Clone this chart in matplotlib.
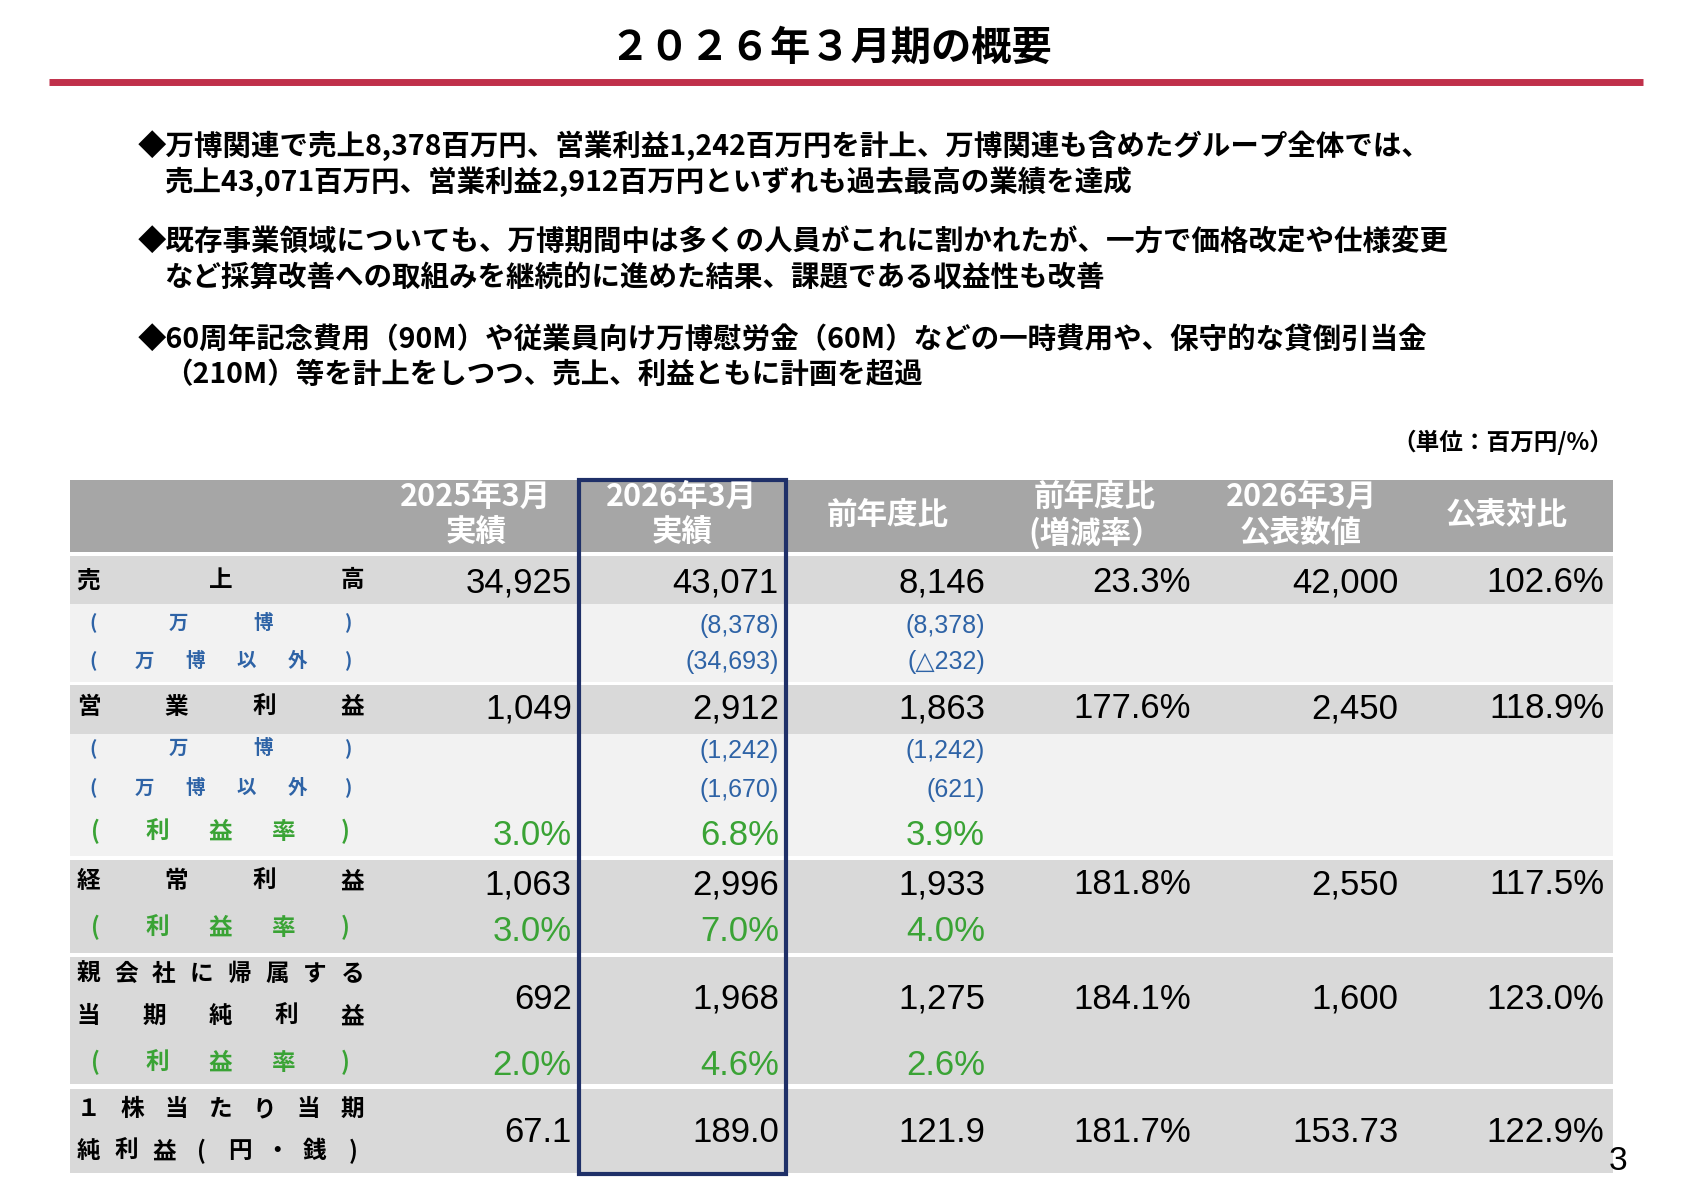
import matplotlib
matplotlib.use("Agg")
import matplotlib.pyplot as plt
from matplotlib.patches import Rectangle

plt.rcParams['font.family'] = ['Noto Sans CJK JP', 'DejaVu Sans']

title = "２０２６年３月期の概要"
bullets = [
    ["◆万博関連で売上8,378百万円、営業利益1,242百万円を計上、万博関連も含めたグループ全体では、",
     "売上43,071百万円、営業利益2,912百万円といずれも過去最高の業績を達成"],
    ["◆既存事業領域についても、万博期間中は多くの人員がこれに割かれたが、一方で価格改定や仕様変更",
     "など採算改善への取組みを継続的に進めた結果、課題である収益性も改善"],
    ["◆60周年記念費用（90M）や従業員向け万博慰労金（60M）などの一時費用や、保守的な貸倒引当金",
     "（210M）等を計上をしつつ、売上、利益ともに計画を超過"],
]
unit = "（単位：百万円/%）"
headers = [["2025年3月", "実績"], ["2026年3月", "実績"], ["前年度比"],
           ["前年度比", "(増減率）"], ["2026年3月", "公表数値"], ["公表対比"]]

sales = ["34,925", "43,071", "8,146", "23.3%", "42,000", "102.6%"]
op_profit = ["1,049", "2,912", "1,863", "177.6%", "2,450", "118.9%"]
ord_profit = ["1,063", "2,996", "1,933", "181.8%", "2,550", "117.5%"]
net_profit = ["692", "1,968", "1,275", "184.1%", "1,600", "123.0%"]
eps = ["67.1", "189.0", "121.9", "181.7%", "153.73", "122.9%"]
sales_expo = ["", "(8,378)", "(8,378)"]
sales_other = ["", "(34,693)", "(△232)"]
op_expo = ["", "(1,242)", "(1,242)"]
op_other = ["", "(1,670)", "(621)"]
op_margin = ["3.0%", "6.8%", "3.9%"]
ord_margin = ["3.0%", "7.0%", "4.0%"]
net_margin = ["2.0%", "4.6%", "2.6%"]

W, H = 1560, 1103
fig = plt.figure(figsize=(16.83, 11.90), dpi=100)
ax = fig.add_axes([0, 0, 1, 1])
ax.set_xlim(0, W)
ax.set_ylim(H, 0)
ax.axis("off")

ax.text(770, 45, title, ha="center", va="center", fontsize=29, fontweight="bold")
ax.plot([45, 1523], [76, 76], color="#c0304a", lw=5, solid_capstyle="butt")

by = [135, 225, 315]
for y0, lines in zip(by, bullets):
    for i, ln in enumerate(lines):
        ax.text(128 if i == 0 else 152, y0 + i * 33, ln, ha="left", va="center",
                fontsize=20.5, fontweight="bold")
ax.text(1495, 410, unit, ha="right", va="center", fontsize=17, fontweight="bold")

TL, TR = 65, 1495
bands = [(445, 512, "#a6a6a6"), (515, 560, "#d9d9d9"), (560, 632, "#f2f2f2"),
         (635, 680, "#d9d9d9"), (680, 793, "#f2f2f2"), (797, 883, "#d9d9d9"),
         (887, 1005, "#d9d9d9"), (1009, 1087, "#d9d9d9")]
for y0, y1, c in bands:
    ax.add_patch(Rectangle((TL, y0), TR - TL, y1 - y0, color=c, lw=0))

col_right = [530, 722, 913, 1104, 1296, 1487]
col_center = [441, 632, 823, 1015, 1206, 1397]
for cx, hd in zip(col_center, headers):
    if len(hd) == 1:
        ax.text(cx, 477, hd[0], ha="center", va="center", color="white",
                fontsize=22, fontweight="bold")
    else:
        ax.text(cx, 461, hd[0], ha="center", va="center", color="white",
                fontsize=22, fontweight="bold")
        ax.text(cx, 494, hd[1], ha="center", va="center", color="white",
                fontsize=22, fontweight="bold")

BLUE = "#2e63a6"
GREEN = "#3aa335"

def label(y, text, color="black", size=17, x0=82, x1=327):
    n = len(text)
    for i, ch in enumerate(text):
        x = x0 + (x1 - x0) * i / (n - 1)
        ax.text(x, y, ch, ha="center", va="center", color=color,
                fontsize=size, fontweight="bold")

def values(y, vals, color="black", size=25):
    for xr, v in zip(col_right, vals):
        if v:
            ax.text(xr, y, v, ha="right", va="center", color=color,
                    fontsize=size, family=["Liberation Sans", "DejaVu Sans"])

label(538, "売上高")
values(540, sales)
label(578, "(万博)", BLUE, 14, 86, 323)
values(580, sales_expo, BLUE, 18)
label(613, "(万博以外)", BLUE, 14, 86, 323)
values(614, sales_other, BLUE, 18)

label(655, "営業利益")
values(657, op_profit)
label(694, "(万博)", BLUE, 14, 86, 323)
values(696, op_expo, BLUE, 18)
label(731, "(万博以外)", BLUE, 14, 86, 323)
values(732, op_other, BLUE, 18)
label(771, "(利益率)", GREEN, 17, 88, 320)
values(774, op_margin, GREEN)

label(817, "経常利益")
values(820, ord_profit)
label(860, "(利益率)", GREEN, 17, 88, 320)
values(863, ord_margin, GREEN)

label(903, "親会社に帰属する")
label(942, "当期純利益")
values(926, net_profit)
label(985, "(利益率)", GREEN, 17, 88, 320)
values(988, net_margin, GREEN)

label(1028, "１株当たり当期")
label(1067, "純利益(円・銭)")
values(1050, eps)

ax.add_patch(Rectangle((537, 445), 192, 643, fill=False, edgecolor="#1f3068", lw=3))
ax.text(1500, 1077, "3", ha="center", va="center", fontsize=24,
        family=["Liberation Sans", "DejaVu Sans"])

fig.savefig("out.png", dpi=100)
